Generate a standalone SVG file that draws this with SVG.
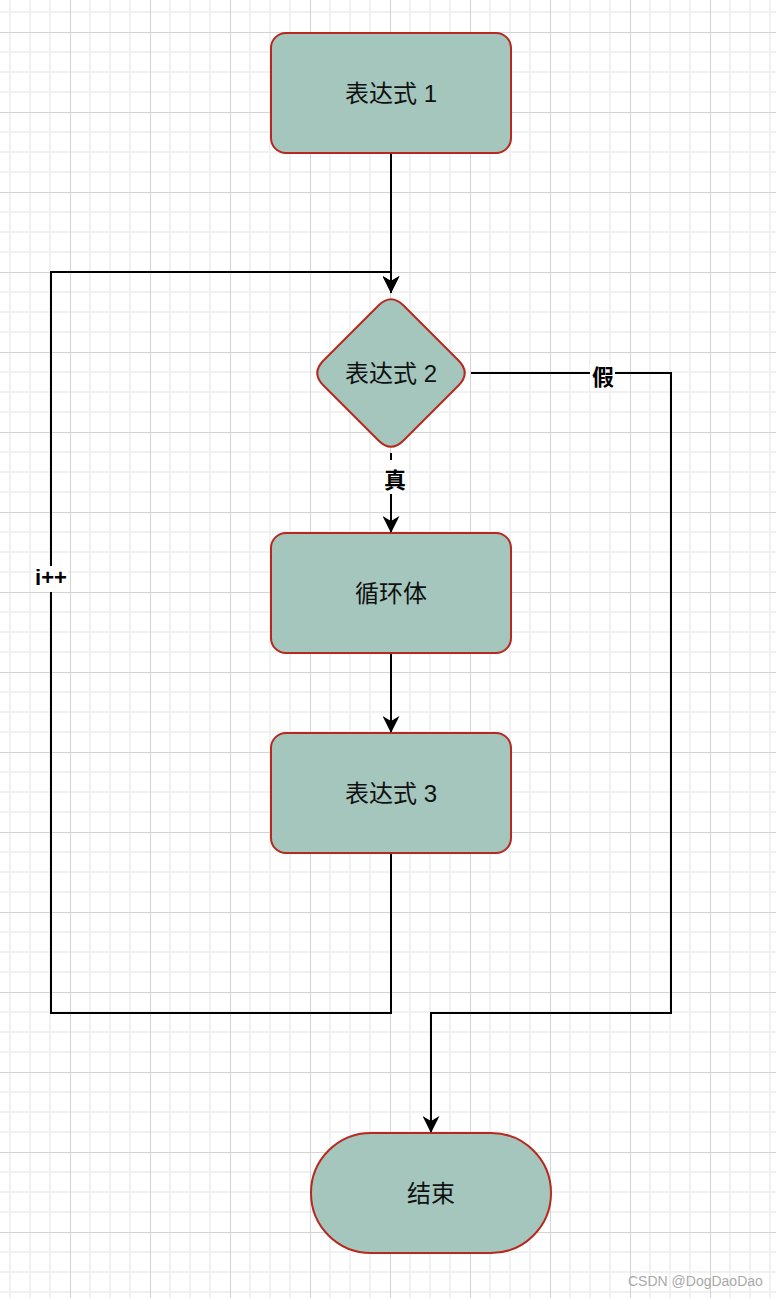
<svg xmlns="http://www.w3.org/2000/svg" width="776" height="1298" viewBox="0 0 776 1298">
  <defs>
    <pattern id="grid" patternUnits="userSpaceOnUse" x="70" y="32" width="80" height="80">
      <g stroke="#f1f1f1" stroke-width="2" fill="none">
        <path d="M20,0 V80 M40,0 V80 M60,0 V80 M0,20 H80 M0,40 H80 M0,60 H80"/>
      </g>
      <g stroke="#d3d3d3" stroke-width="1" fill="none">
        <path d="M0.5,0 V80 M0,0.5 H80"/>
      </g>
    </pattern>
    <marker id="arrow" markerUnits="userSpaceOnUse" viewBox="0 0 17 17" markerWidth="17" markerHeight="17" refX="17" refY="8.5" orient="auto">
      <path d="M17,8.5 L0,0 L5,8.5 L0,17 Z" fill="#000"/>
    </marker>
    <style>
      .node { fill: #a4c6bd; stroke: #b8281e; stroke-width: 2; }
      .ntext { font-family: "Liberation Sans", "Noto Sans CJK SC", sans-serif; font-size: 24px; fill: #111; text-anchor: middle; }
      .edge { fill: none; stroke: #000; stroke-width: 2; }
      .lbg { fill: #fff; }
      .ltext { font-family: "Liberation Sans", "Noto Sans CJK SC", sans-serif; font-size: 22px; font-weight: bold; fill: #000; text-anchor: middle; }
      .wm { font-family: "Liberation Sans", "Noto Sans", sans-serif; font-size: 14px; fill: #a9a9a9; }
    </style>
  </defs>

  <rect x="0" y="0" width="776" height="1298" fill="#ffffff"/>
  <rect x="0" y="0" width="776" height="1298" fill="url(#grid)"/>

  <g id="connectors">
    <path class="edge" d="M391,153 V293" marker-end="url(#arrow)"/>
    <path class="edge" d="M391,453 V533" marker-end="url(#arrow)"/>
    <path class="edge" d="M391,653 V733" marker-end="url(#arrow)"/>
    <path class="edge" d="M391,853 V1013 H51 V272 H391 V293" marker-end="url(#arrow)"/>
    <path class="edge" d="M471,373 H671 V1013 H431 V1133" marker-end="url(#arrow)"/>
    <g id="label-true">
      <rect class="lbg" x="384" y="460" width="22" height="34"/>
      <text class="ltext" x="395" y="488">真</text>
    </g>
    <g id="label-false">
      <rect class="lbg" x="590" y="364" width="25" height="24"/>
      <text class="ltext" x="603" y="385">假</text>
    </g>
    <g id="label-inc">
      <rect class="lbg" x="34" y="566" width="34" height="26"/>
      <text class="ltext" x="51" y="585">i++</text>
    </g>
  </g>

  <g id="node-expr1">
    <rect class="node" x="271" y="33" width="240" height="120" rx="15" ry="15"/>
    <text class="ntext" x="391" y="102">表达式 1</text>
  </g>

  <g id="node-expr2">
    <path class="node" d="M378.5,305.5 Q391,293 403.5,305.5 L458.5,360.5 Q471,373 458.5,385.5 L403.5,440.5 Q391,453 378.5,440.5 L323.5,385.5 Q311,373 323.5,360.5 Z"/>
    <text class="ntext" x="391" y="382">表达式 2</text>
  </g>

  <g id="node-body">
    <rect class="node" x="271" y="533" width="240" height="120" rx="15" ry="15"/>
    <text class="ntext" x="391" y="602">循环体</text>
  </g>

  <g id="node-expr3">
    <rect class="node" x="271" y="733" width="240" height="120" rx="15" ry="15"/>
    <text class="ntext" x="391" y="802">表达式 3</text>
  </g>

  <g id="node-end">
    <rect class="node" x="311" y="1133" width="240" height="120" rx="60" ry="60"/>
    <text class="ntext" x="431" y="1202">结束</text>
  </g>

  <text class="wm" x="628" y="1286">CSDN @DogDaoDao</text>
</svg>
